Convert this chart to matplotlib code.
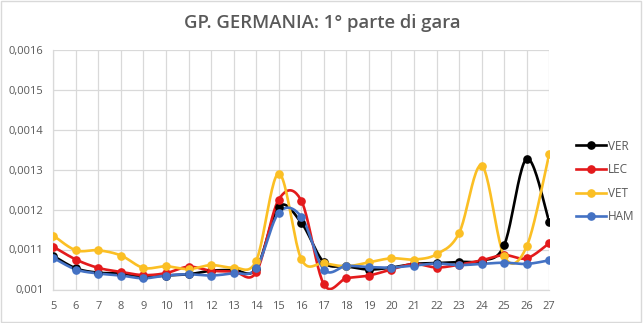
import numpy as np
import matplotlib

matplotlib.use("Agg")
import matplotlib.pyplot as plt
from matplotlib.patches import Rectangle

# giri 5-27, tempi normalizzati per pilota
laps = list(range(5, 28))
ver = [0.001084, 0.001053, 0.001042, 0.001040, 0.001032, 0.001035, 0.001038, 0.001047,
       0.001049, 0.001052, 0.001207, 0.001167, 0.001068, 0.001058, 0.001050, 0.001055,
       0.001064, 0.001066, 0.001069, 0.001072, 0.001111, 0.001327, 0.001168]
lec = [0.001107, 0.001075, 0.001054, 0.001044, 0.001036, 0.001041, 0.001057, 0.001047,
       0.001045, 0.001043, 0.001225, 0.001222, 0.001013, 0.001028, 0.001035, 0.001050,
       0.001064, 0.001055, 0.001062, 0.001073, 0.001086, 0.001078, 0.001116]
vet = [0.001135, 0.001098, 0.001098, 0.001085, 0.001054, 0.001058, 0.001051, 0.001061,
       0.001055, 0.001072, 0.001290, 0.001076, 0.001066, 0.001058, 0.001068, 0.001078,
       0.001075, 0.001088, 0.001141, 0.001310, 0.001083, 0.001108, 0.001340]
ham = [0.001079, 0.001050, 0.001040, 0.001035, 0.001028, 0.001035, 0.001038, 0.001035,
       0.001041, 0.001053, 0.001192, 0.001182, 0.001050, 0.001059, 0.001056, 0.001055,
       0.001060, 0.001065, 0.001061, 0.001064, 0.001067, 0.001064, 0.001073]

series = [("VER", ver, "#000000"), ("LEC", lec, "#e31a1c"),
          ("VET", vet, "#fbbf24"), ("HAM", ham, "#4472c4")]

GRID = "#d9d9d9"
TXT = "#595959"
FONT = ["Open Sans", "DejaVu Sans"]


def smooth(x, y, n=24):
    # curva levigata stile Excel (Bezier con tangenti Catmull-Rom)
    x = np.asarray(x, float)
    y = np.asarray(y, float)
    px = np.concatenate([[x[0]], x, [x[-1]]])
    py = np.concatenate([[y[0]], y, [y[-1]]])
    t = np.linspace(0, 1, n)[:, None]
    xs, ys = [], []
    for i in range(1, len(x)):
        p0 = np.array([px[i - 1], py[i - 1]])
        p1 = np.array([px[i], py[i]])
        p2 = np.array([px[i + 1], py[i + 1]])
        p3 = np.array([px[i + 2], py[i + 2]])
        b1 = p1 + (p2 - p0) / 6
        b2 = p2 - (p3 - p1) / 6
        seg = ((1 - t) ** 3) * p1 + 3 * ((1 - t) ** 2) * t * b1 + 3 * (1 - t) * t ** 2 * b2 + t ** 3 * p2
        xs.append(seg[:, 0])
        ys.append(seg[:, 1])
    return np.concatenate(xs), np.concatenate(ys)


fig = plt.figure(figsize=(6.43, 3.23), dpi=100)
fig.patches.append(Rectangle((0.002, 0.003), 0.995, 0.993, transform=fig.transFigure,
                             fill=False, edgecolor=GRID, lw=1.0))
ax = fig.add_axes([53.3 / 643, 1 - 289.5 / 323, 496 / 643, 240 / 323])

for name, vals, col in series:
    sx, sy = smooth(laps, vals)
    ax.plot(sx, sy, color=col, lw=1.9, zorder=3, solid_capstyle="round")
    ax.plot(laps, vals, ls="none", marker="o", ms=5.2, color=col, zorder=4)

ax.set_xlim(5, 27)
ax.set_ylim(0.001, 0.0016)
ax.set_xticks(laps)
ax.set_xticklabels([str(v) for v in laps])
yt = [0.001, 0.0011, 0.0012, 0.0013, 0.0014, 0.0015, 0.0016]
ax.set_yticks(yt)
ax.set_yticklabels([f"{v:g}".replace(".", ",") for v in yt])
ax.grid(True, color=GRID, lw=0.9, zorder=0)
ax.set_axisbelow(True)
for s in ("top", "right"):
    ax.spines[s].set_visible(False)
for s in ("left", "bottom"):
    ax.spines[s].set_color(GRID)
    ax.spines[s].set_linewidth(0.9)
ax.tick_params(length=0, labelcolor=TXT, labelsize=8)
ax.tick_params(axis="x", pad=8)
ax.tick_params(axis="y", pad=7)
for lab in ax.get_xticklabels() + ax.get_yticklabels():
    lab.set_family(FONT)

fig.text(322 / 643, 1 - 23 / 323, "GP. GERMANIA: 1° parte di gara", ha="center", va="center",
         fontsize=13.3, color=TXT, fontweight="semibold", family=FONT)

handles = [plt.Line2D([0], [0], color=c, lw=1.9, marker="o", ms=5.2) for _, _, c in series]
leg = fig.legend(handles, [n for n, _, _ in series], loc="upper left",
                 bbox_to_anchor=(565 / 643, 1 - 129 / 323), frameon=False,
                 handlelength=2.6, handletextpad=0.1, labelspacing=0.9,
                 prop={"family": FONT, "size": 8.5})
for t in leg.get_texts():
    t.set_color(TXT)

fig.savefig("out.png", dpi=100)
